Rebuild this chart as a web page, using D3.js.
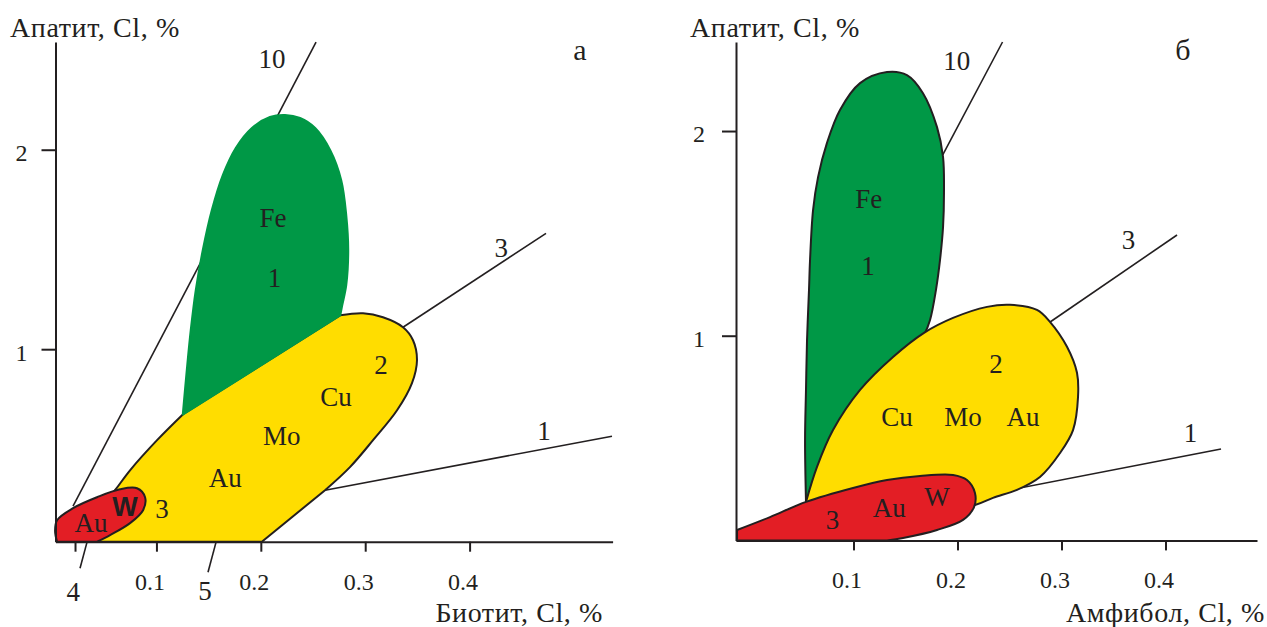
<!DOCTYPE html>
<meta charset="utf-8">
<html>
<head>
<script src="https://d3js.org/d3.v7.min.js"></script>
<style>
  body { margin: 0; background: #fff; }
  svg text { font-family: "Liberation Serif", "Times New Roman", serif; fill: #231f20; }
  .axis path, .axis line { stroke: #231f20; stroke-width: 2; }
  .axis text { font-size: 24px; }
  .field { font-size: 27px; text-anchor: middle; }
  .sans { font-family: "Liberation Sans", Arial, sans-serif !important; font-weight: bold; }
  .title { font-size: 28px; letter-spacing: 0.6px; }
</style>
</head>
<body>
<div id="chart"></div>
<script>
// ---- panel а : биотит ----
const xTicksA = [0.022, 0.1, 0.2, 0.3, 0.4];
const xTickLabelsA = ["", "0.1", "0.2", "0.3", "0.4"];
const yTicksA = [1, 2];

// outlines [Cl biotite, Cl apatite]
const yellowA = [[0.201,0.035],[0.2615,0.293],[0.2854,0.409],[0.3075,0.544],[0.3305,0.694],[0.3448,0.830],
  [0.3496,0.945],[0.3458,1.045],[0.3362,1.110],[0.3170,1.160],[0.2979,1.180],[0.2759,1.170],
  [0.1255,0.674],[0.1006,0.544],[0.0747,0.393],[0.0603,0.293],[0.0412,0.168],[0.0268,0.035]];
const yellowCornersA = [1, 11, 12];
const greenA = [[0.1255,0.674],[0.1293,0.895],[0.1331,1.095],[0.1379,1.296],[0.1446,1.496],[0.1533,1.697],
  [0.1638,1.872],[0.1762,2.008],[0.1916,2.108],[0.2088,2.163],[0.2232,2.173],[0.2375,2.158],
  [0.2519,2.108],[0.2663,1.997],[0.2768,1.847],[0.2816,1.672],[0.2835,1.496],[0.2816,1.321],
  [0.2778,1.221],[0.2759,1.170]];
const redA = [[0.0431,0.035],[0.0556,0.068],[0.0747,0.128],[0.0872,0.193],[0.0891,0.258],[0.0814,0.303],
  [0.0651,0.298],[0.0431,0.258],[0.0201,0.203],[0.0048,0.143],[0.0029,0.088],[0.0048,0.035]];

const lineNamesA = ["10", "3", "1", "4", "5"];
const lineFromA = [[0.0201,0.213],[0.3362,1.110],[0.2615,0.293],[0.0335,0.033],[0.1571,0.033]];
const lineToA = [[0.2529,2.539],[0.4732,1.581],[0.5364,0.564],[0.0268,-0.098],[0.1494,-0.118]];
const lineLabelAtA = [[0.2107,2.454],[0.4303,1.508],[0.4713,0.589],[0.0204,-0.216],[0.1466,-0.215]];

const fieldTextA = ["Fe", "1", "2", "Cu", "Mo", "Au", "3", "W", "Au"];
const fieldAtA = [[0.2117,1.657],[0.213,1.358],[0.3151,0.920],[0.272,0.761],[0.220,0.564],
  [0.166,0.352],[0.1054,0.200],[0.0699,0.208],[0.0374,0.128]];

// ---- panel б : амфибол ----
const xTicksB = [0.1, 0.2, 0.3, 0.4];
const xTickLabelsB = ["0.1", "0.2", "0.3", "0.4"];
const yTicksB = [1, 2];

const greenB = [[0.0543,0.188],[0.0534,0.491],[0.0543,0.735],[0.0553,0.979],[0.0572,1.224],[0.0582,1.370],
  [0.0611,1.614],[0.0659,1.775],[0.0745,1.942],[0.0870,2.103],[0.1063,2.234],[0.1322,2.288],
  [0.1514,2.273],[0.1668,2.185],[0.1803,2.019],[0.1861,1.873],[0.1870,1.697],[0.1861,1.531],
  [0.1832,1.370],[0.1793,1.224],[0.1736,1.077],[0.1678,1.003],[0.1591,0.930]];
const yellowB = [[0.0543,0.188],[0.0649,0.359],[0.0803,0.539],[0.1063,0.735],[0.1380,0.896],[0.1678,1.014],
  [0.1957,1.087],[0.2284,1.141],[0.2505,1.151],[0.2764,1.126],[0.2889,1.068],[0.3053,0.946],
  [0.3149,0.819],[0.3159,0.701],[0.3111,0.539],[0.2986,0.427],[0.2793,0.310],[0.2572,0.247],
  [0.2341,0.208],[0.2168,0.173],[0.1351,0.100]];
const redB = [[-0.012,0.051],[0.0197,0.114],[0.0543,0.188],[0.0995,0.256],[0.1322,0.295],[0.1639,0.315],
  [0.1957,0.320],[0.2091,0.295],[0.2168,0.232],[0.2159,0.163],[0.2053,0.100],[0.1803,0.051],
  [0.1476,0.012],[0.1322,0],[-0.012,0]];
const redCornersB = [13];

const lineNamesB = ["10", "3", "1"];
const lineFromB = [[0.1858,1.883],[0.2873,1.061],[0.2537,0.250]];
const lineToB = [[0.2433,2.435],[0.4111,1.492],[0.4534,0.4465]];
const lineLabelAtB = [[0.1992,2.343],[0.3644,1.465],[0.4241,0.523]];

const fieldTextB = ["Fe", "1", "2", "Cu", "Mo", "Au", "W", "Au", "3"];
const fieldAtB = [[0.1146,1.668],[0.1139,1.342],[0.2370,0.859],[0.1418,0.603],[0.2053,0.603],
  [0.263,0.603],[0.1803,0.210],[0.1344,0.156],[0.0798,0.101]];

const GREEN = "#009846", YELLOW = "#ffdd00", RED = "#e31e25", INK = "#231f20";

const svg = d3.select("#chart").append("svg")
  .attr("width", 1267)
  .attr("height", 627);

// curved runs between corner points, straight closing edge
function outline(pts, corners, x, y) {
  const curve = d3.line().x(d => x(d[0])).y(d => y(d[1])).curve(d3.curveCatmullRom.alpha(0.5));
  const cuts = [0, ...corners, pts.length - 1];
  return cuts.slice(1).map((c, i) => {
    const s = curve(pts.slice(cuts[i], c + 1));
    return i ? "L" + s.slice(1) : s;
  }).join("") + "Z";
}

function drawPanel(p) {
  const g = svg.append("g");
  const x = d3.scaleLinear().domain(p.xDomain).range(p.xRange);
  const y = d3.scaleLinear().domain(p.yDomain).range(p.yRange);

  // guide lines first, the fields cover them
  g.selectAll("line.guide")
    .data(p.lineFrom)
    .join("line")
      .attr("class", "guide")
      .attr("x1", d => x(d[0])).attr("y1", d => y(d[1]))
      .attr("x2", (d, i) => x(p.lineTo[i][0])).attr("y2", (d, i) => y(p.lineTo[i][1]))
      .attr("stroke", INK).attr("stroke-width", 1.6);

  p.shapes.forEach(s => {
    g.append("path")
      .attr("d", outline(s.pts, s.corners || [], x, y))
      .attr("fill", s.fill)
      .attr("stroke", s.stroke)
      .attr("stroke-width", s.width)
      .attr("stroke-linejoin", "round");
  });

  const xAxis = g.append("g")
    .attr("class", "axis")
    .attr("transform", `translate(0,${p.yRange[0]})`)
    .call(d3.axisBottom(x).tickValues(p.xTicks).tickSize(10).tickSizeOuter(0).tickPadding(21)
      .tickFormat((d, i) => p.xTickLabels[i]));
  xAxis.selectAll("text").attr("dx", -7).attr("fill", INK);

  const yAxis = g.append("g")
    .attr("class", "axis")
    .attr("transform", `translate(${p.xRange[0]},0)`)
    .call(d3.axisLeft(y).tickValues(p.yTicks).tickSize(14).tickSizeOuter(0).tickPadding(p.yPad)
      .tickFormat(d3.format("d")));
  yAxis.selectAll("text").attr("dy", "0.45em").attr("fill", INK);
  g.selectAll(".axis").attr("font-family", null).attr("font-size", null);

  g.selectAll("text.lineName")
    .data(p.lineNames)
    .join("text")
      .attr("class", "field lineName")
      .attr("x", (d, i) => x(p.lineLabelAt[i][0]))
      .attr("y", (d, i) => y(p.lineLabelAt[i][1]))
      .attr("dy", "0.33em")
      .text(d => d);

  g.selectAll("text.fieldName")
    .data(p.fieldText)
    .join("text")
      .attr("class", (d, i) => i === p.sansIndex ? "field fieldName sans" : "field fieldName")
      .attr("x", (d, i) => x(p.fieldAt[i][0]))
      .attr("y", (d, i) => y(p.fieldAt[i][1]))
      .attr("dy", "0.33em")
      .text(d => d);

  g.append("text").attr("class", "title")
    .attr("x", p.yTitle[0]).attr("y", p.yTitle[1])
    .text("Апатит, Cl, %");
  g.append("text").attr("class", "title")
    .attr("x", p.xTitle[0]).attr("y", p.xTitle[1])
    .attr("text-anchor", "end")
    .text(p.xTitleText);
  g.append("text")
    .attr("x", p.letterAt[0]).attr("y", p.letterAt[1])
    .attr("text-anchor", "middle")
    .style("font-size", "30px")
    .text(p.letter);
}

drawPanel({
  xDomain: [0.0033, 0.537], xRange: [55.5, 612.6],
  yDomain: [0.035, 2.54], yRange: [541.7, 42],
  xTicks: xTicksA, xTickLabels: xTickLabelsA, yTicks: yTicksA, yPad: 14,
  shapes: [
    {pts: yellowA, corners: yellowCornersA, fill: YELLOW, stroke: INK, width: 2},
    {pts: greenA, fill: GREEN, stroke: GREEN, width: 2.5},
    {pts: redA, fill: RED, stroke: INK, width: 2}
  ],
  lineFrom: lineFromA, lineTo: lineToA, lineNames: lineNamesA, lineLabelAt: lineLabelAtA,
  fieldText: fieldTextA, fieldAt: fieldAtA, sansIndex: 7,
  yTitle: [10, 37], xTitle: [603, 622], xTitleText: "Биотит, Cl, %",
  letter: "а", letterAt: [580, 60]
});

drawPanel({
  xDomain: [-0.013, 0.488], xRange: [736, 1257],
  yDomain: [0, 2.435], yRange: [540.4, 42],
  xTicks: xTicksB, xTickLabels: xTickLabelsB, yTicks: yTicksB, yPad: 17,
  shapes: [
    {pts: greenB, fill: GREEN, stroke: INK, width: 2},
    {pts: yellowB, fill: YELLOW, stroke: INK, width: 2},
    {pts: redB, corners: redCornersB, fill: RED, stroke: INK, width: 2}
  ],
  lineFrom: lineFromB, lineTo: lineToB, lineNames: lineNamesB, lineLabelAt: lineLabelAtB,
  fieldText: fieldTextB, fieldAt: fieldAtB, sansIndex: -1,
  yTitle: [690, 37], xTitle: [1265, 622], xTitleText: "Амфибол, Cl, %",
  letter: "б", letterAt: [1183, 60]
});
</script>
</body>
</html>
